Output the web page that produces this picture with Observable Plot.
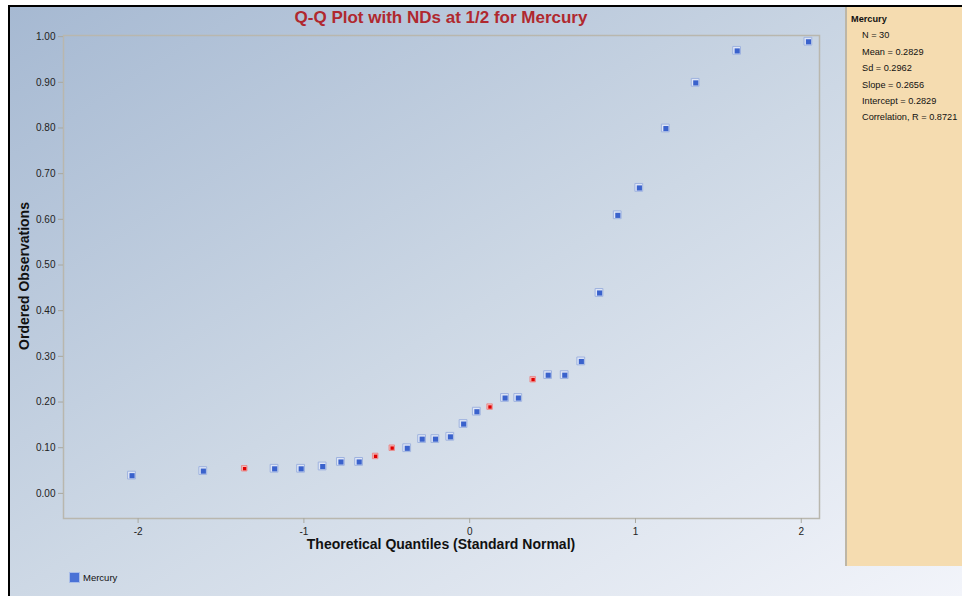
<!DOCTYPE html>
<html>
<head>
<meta charset="utf-8">
<script src="https://cdn.jsdelivr.net/npm/d3@7"></script>
<script src="https://cdn.jsdelivr.net/npm/@observablehq/plot@0.6"></script>
<style>
  html, body { margin: 0; padding: 0; background: #fff; }
  #wrap { position: relative; width: 962px; height: 596px; overflow: hidden; font-family: "Liberation Sans", Arial, sans-serif; }
  #bg { position: absolute; left: 10px; top: 7px; width: 952px; height: 589px;
        background: linear-gradient(to bottom right, #a6b9d2 0%, #cdd8e5 50%, #f2f4fa 100%); }
  #bl { position: absolute; left: 8px; top: 5px; width: 2px; height: 591px; background: #000; }
  #bt { position: absolute; left: 8px; top: 5px; width: 954px; height: 2px; background: #000; }
  #panel { position: absolute; left: 845px; top: 7px; width: 117px; height: 559px; background: #f5dcb0; border-left: 2px solid #bdb6a6; box-sizing: border-box; }
  #plot { position: absolute; left: 0; top: 0; }
  .t { position: absolute; white-space: nowrap; }
  #title { left: 0; width: 882px; top: 8px; text-align: center; font-weight: bold; font-size: 17px; color: #b0282e; }
  #xlab { left: 63px; width: 756px; top: 536px; text-align: center; font-weight: bold; font-size: 14px; color: #111; }
  #ylab { left: 24px; top: 276px; font-weight: bold; font-size: 14px; color: #111; transform: translate(-50%, -50%) rotate(-90deg); }
  #stats { position: absolute; left: 851px; top: 11px; font-size: 9.2px; color: #111; line-height: 16.4px; }
  #stats .h { font-weight: bold; }
  #stats .r { padding-left: 11px; }
  #legend { position: absolute; left: 69px; top: 572px; font-size: 9.5px; color: #111; display: flex; align-items: center; }
  #legend .sw { width: 9px; height: 9px; background: #4a72d6; border: 1px solid #a9bde8; margin-right: 3px; }
</style>
</head>
<body>
<div id="wrap">
  <div id="bg"></div>
  <div id="bl"></div>
  <div id="bt"></div>
  <div id="panel"></div>
  <div id="plotHolder"></div>
  <div class="t" id="title">Q-Q Plot with NDs at 1/2 for Mercury</div>
  <div class="t" id="xlab">Theoretical Quantiles (Standard Normal)</div>
  <div class="t" id="ylab">Ordered Observations</div>
  <div id="stats"></div>
  <div id="legend"></div>
</div>
<script>
// Data
const seriesName = "Mercury";
const quantiles = [-2.04, -1.61, -1.36, -1.18, -1.02, -0.89, -0.78, -0.67, -0.57, -0.47,
                   -0.38, -0.29, -0.21, -0.12, -0.04, 0.04, 0.12, 0.21, 0.29, 0.38,
                    0.47, 0.57, 0.67, 0.78, 0.89, 1.02, 1.18, 1.36, 1.61, 2.04];
const observations = [0.04, 0.05, 0.055, 0.055, 0.055, 0.06, 0.07, 0.07, 0.082, 0.10,
                      0.10, 0.12, 0.12, 0.125, 0.153, 0.18, 0.19, 0.21, 0.21, 0.25,
                      0.26, 0.26, 0.29, 0.44, 0.61, 0.67, 0.80, 0.90, 0.97, 0.99];
const nonDetect = [0, 0, 1, 0, 0, 0, 0, 0, 1, 1,
                   0, 0, 0, 0, 0, 0, 1, 0, 0, 1,
                   0, 0, 0, 0, 0, 0, 0, 0, 0, 0];
const xTicks = [-2, -1, 0, 1, 2];
const yTicks = [0, 0.1, 0.2, 0.3, 0.4, 0.5, 0.6, 0.7, 0.8, 0.9, 1.0];
const statLabels = ["N", "Mean", "Sd", "Slope", "Intercept", "Correlation, R"];
const statValues = ["30", "0.2829", "0.2962", "0.2656", "0.2829", "0.8721"];

const rows = quantiles.map((q, i) => ({q, v: observations[i], nd: nonDetect[i] === 1}));
const detected = rows.filter(d => !d.nd);
const nds = rows.filter(d => d.nd);

const chart = Plot.plot({
  width: 845,
  height: 560,
  marginLeft: 63,
  marginRight: 26,
  marginTop: 35,
  marginBottom: 42,
  style: {background: "transparent", fontFamily: "Liberation Sans, Arial, sans-serif", fontSize: "10px", overflow: "visible"},
  x: {domain: [-2.45, 2.11]},
  y: {domain: [-0.055, 1.0025]},
  marks: [
    Plot.frame({stroke: "#b9b7ae", strokeWidth: 1.5}),
    Plot.axisY({ticks: yTicks, tickFormat: d3.format(".2f"), tickSize: 5, tickPadding: 3, stroke: "#a8a8a0", fill: "#222", label: null, fontSize: 10}),
    Plot.axisX({ticks: xTicks, tickFormat: d => String(d).replace("−", "-"), tickSize: 5, tickPadding: 4, stroke: "#a8a8a0", fill: "#222", label: null, fontSize: 10}),
    // blue markers: light bevel then blue core
    Plot.dot(detected, {x: "q", y: "v", symbol: "square", r: 4.4, fill: "#dfe6f6", stroke: "#9fb3df", strokeWidth: 1}),
    Plot.dot(detected, {x: "q", y: "v", symbol: "square", r: 2.9, fill: "#3a62cc", dx: 0.6, dy: 0.6}),
    // red markers (non-detects)
    Plot.dot(nds, {x: "q", y: "v", symbol: "square", r: 3.1, fill: "#f6b6b6", stroke: "#e88080", strokeWidth: 0.8}),
    Plot.dot(nds, {x: "q", y: "v", symbol: "square", r: 1.9, fill: "#e00000", dx: 0.4, dy: 0.4})
  ]
});
chart.id = "plot";
document.getElementById("plotHolder").appendChild(chart);

const stats = document.getElementById("stats");
stats.innerHTML = `<div class="h">${seriesName}</div>` +
  statLabels.map((l, i) => `<div class="r">${l} = ${statValues[i]}</div>`).join("");

document.getElementById("legend").innerHTML = `<div class="sw"></div><span>${seriesName}</span>`;
</script>
</body>
</html>
